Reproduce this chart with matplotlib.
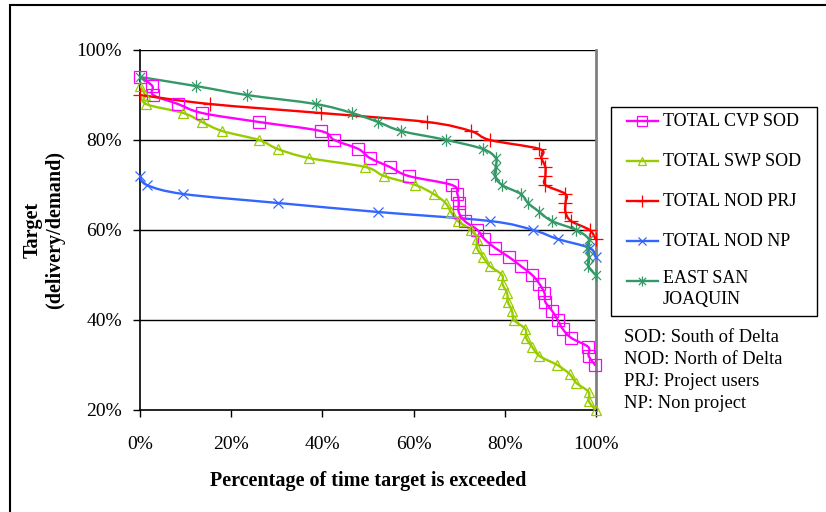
import numpy as np
import matplotlib
matplotlib.use("Agg")
import matplotlib.pyplot as plt
from matplotlib.path import Path
from matplotlib.patches import PathPatch, Rectangle
from matplotlib.lines import Line2D

# ---------------- data (percent) ----------------
cvp_y = [94, 92, 90, 88, 86, 84, 82, 80, 78, 76, 74, 72, 70, 68, 66, 64, 62, 60, 58, 56,
         54, 52, 50, 48, 46, 44, 42, 40, 38, 36, 34, 32, 30]
cvp_x = [0, 2.7, 2.9, 8.3, 13.6, 26.1, 39.6, 42.6, 47.9, 50.4, 54.8, 58.9, 68.4, 69.6, 69.9, 69.9,
         71.2, 74.0, 75.5, 77.9, 80.9, 83.5, 86.0, 87.6, 88.7, 88.9, 90.4, 91.6, 92.7, 94.6, 98.3, 98.4, 99.8]

swp_y = [92, 90, 88, 86, 84, 82, 80, 78, 76, 74, 72, 70, 68, 66, 64, 62, 60, 58, 56, 54,
         52, 50, 48, 46, 44, 42, 40, 38, 36, 34, 32, 30, 28, 26, 24, 22, 20]
swp_x = [0, 1.1, 1.3, 9.5, 13.6, 18.0, 26.1, 30.2, 37.0, 49.4, 53.5, 60.4, 64.4, 67.0, 68.2, 69.7,
         72.6, 73.8, 73.9, 75.2, 76.7, 79.4, 79.5, 80.5, 80.7, 81.6, 82.0, 84.5, 84.7, 86.0, 87.6,
         91.5, 94.2, 95.7, 98.4, 98.4, 99.9]

prj_y = [90, 88, 86, 84, 82, 80, 78, 76, 74, 72, 70, 68, 66, 64, 62, 60, 58]
prj_x = [0, 15.3, 39.6, 63.0, 72.5, 76.7, 87.6, 88.0, 88.9, 88.9, 88.9, 93.3, 93.3, 93.3, 94.5, 98.6, 99.9]

np_y = [72, 70, 68, 66, 64, 62, 60, 58, 56, 54]
np_x = [0, 1.5, 9.5, 30.3, 52.2, 76.7, 86.2, 91.6, 98.6, 99.9]

esj_y = [94, 92, 90, 88, 86, 84, 82, 80, 78, 76, 74, 72, 70, 68, 66, 64, 62, 60, 58, 56, 54, 52, 50]
esj_x = [0, 12.2, 23.4, 38.5, 46.5, 52.2, 57.3, 67.2, 75.2, 78.0, 78.0, 77.8, 79.4, 83.5, 85.1,
         87.6, 90.3, 95.7, 98.4, 98.1, 98.4, 98.3, 99.9]

series_names = ["TOTAL CVP SOD", "TOTAL SWP SOD", "TOTAL NOD PRJ", "TOTAL NOD NP", "EAST SAN\nJOAQUIN"]
x_ticks = [0, 20, 40, 60, 80, 100]
y_ticks = [20, 40, 60, 80, 100]
notes = ["SOD: South of Delta", "NOD: North of Delta", "PRJ: Project users", "NP: Non project"]

# ---------------- style ----------------
FONT = "Liberation Serif"
plt.rcParams["font.family"] = [FONT, "DejaVu Serif"]

W, H = 826, 512
fig = plt.figure(figsize=(W / 100, H / 100), dpi=100)
ax = fig.add_axes([140 / W, 1 - 410 / H, (596 - 140) / W, (410 - 50) / H])

asterisk = Path([(0, -1), (0, 1), (-0.72, -0.72), (0.72, 0.72), (-0.72, 0.72), (0.72, -0.72)],
                [Path.MOVETO, Path.LINETO, Path.MOVETO, Path.LINETO, Path.MOVETO, Path.LINETO])

styles = [
    dict(color="#FF00FF", marker="s", ms=8.5),
    dict(color="#99CC00", marker="^", ms=7.5),
    dict(color="#FF0000", marker="+", ms=10),
    dict(color="#3366FF", marker="x", ms=7.5),
    dict(color="#339966", marker=asterisk, ms=9),
]
data = [(cvp_x, cvp_y), (swp_x, swp_y), (prj_x, prj_y), (np_x, np_y), (esj_x, esj_y)]


def smooth_path(x, y):
    pts = np.column_stack([x, y]).astype(float)
    n = len(pts)
    verts = [pts[0]]
    codes = [Path.MOVETO]
    for i in range(n - 1):
        p0 = pts[i - 1] if i > 0 else pts[i]
        p1 = pts[i]
        p2 = pts[i + 1]
        p3 = pts[i + 2] if i + 2 < n else pts[i + 1]
        c1 = p1 + (p2 - p0) / 6.0
        c2 = p2 - (p3 - p1) / 6.0
        verts += [c1, c2, p2]
        codes += [Path.CURVE4] * 3
    return Path(verts, codes)


for (xs, ys), st in zip(data, styles):
    ax.add_patch(PathPatch(smooth_path(xs, ys), fill=False, edgecolor=st["color"], lw=1.7,
                           zorder=3, capstyle="round", joinstyle="round"))
    ax.plot(xs, ys, linestyle="none", marker=st["marker"], ms=st["ms"], mfc="none",
            mec=st["color"], mew=0.9, zorder=4, clip_on=False)

ax.set_xlim(0, 100)
ax.set_ylim(20, 100)
ax.set_xticks(x_ticks)
ax.set_yticks(y_ticks)
ax.set_xticklabels([f"{t}%" for t in x_ticks], fontsize=14, family=FONT)
ax.set_yticklabels([f"{t}%" for t in y_ticks], fontsize=14, family=FONT)
ax.tick_params(axis="y", direction="out", length=5, width=1, pad=8, color="black")
ax.tick_params(axis="x", direction="out", length=5, width=1, pad=14, color="black")
for yv in [40, 60, 80, 100]:
    ax.axhline(yv, color="black", lw=1, zorder=1)
ax.spines["left"].set_color("black")
ax.spines["bottom"].set_color("black")
ax.spines["left"].set_linewidth(1.2)
ax.spines["bottom"].set_linewidth(1.2)
ax.spines["top"].set_visible(False)
ax.spines["right"].set_color("#808080")
ax.spines["right"].set_linewidth(2)

ax.set_xlabel("Percentage of time target is exceeded", fontsize=14.5, fontweight="bold",
              family=FONT, labelpad=13)
ax.set_ylabel("Target\n(delivery/demand)", fontsize=14.5, fontweight="bold", family=FONT,
              labelpad=8, linespacing=1.2)


def fx(px):
    return px / W


def fy(py):
    return 1 - py / H


# outer chart frame
fig.add_artist(Rectangle((fx(10), fy(560)), fx(900), fy(5) - fy(560), fill=False,
                         edgecolor="black", lw=1.5, transform=fig.transFigure))

# legend box
fig.add_artist(Rectangle((fx(611), fy(316)), fx(817) - fx(611), fy(107) - fy(316), fill=False,
                         edgecolor="black", lw=1, transform=fig.transFigure))
row_y = [121, 161, 201, 241, 281]
for name, st, ry in zip(series_names, styles, row_y):
    fig.add_artist(Line2D([fx(627), fx(642), fx(658)], [fy(ry)] * 3, color=st["color"], lw=1.7,
                          marker=st["marker"], ms=st["ms"] * 0.8, mfc="none", mec=st["color"],
                          mew=0.9, markevery=[1], transform=fig.transFigure))
    if "\n" in name:
        fig.text(fx(663), fy(ry - 11), name, fontsize=13, family=FONT, va="top", ha="left",
                 linespacing=1.3)
    else:
        fig.text(fx(663), fy(ry), name, fontsize=13, family=FONT, va="center", ha="left")

note_y = [337, 359, 381, 404]
for s, ny in zip(notes, note_y):
    fig.text(fx(624), fy(ny), s, fontsize=13.3, family=FONT, va="center", ha="left")

fig.savefig("out.png", dpi=100)
